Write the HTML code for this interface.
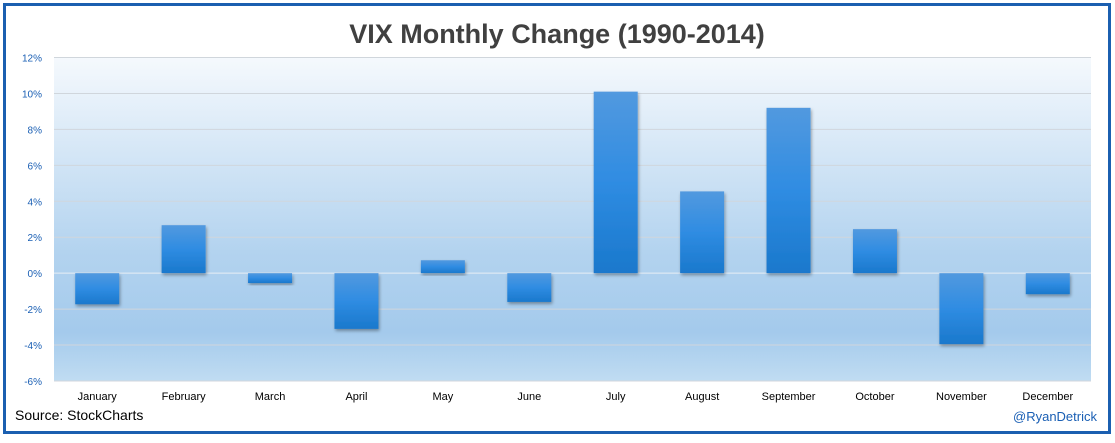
<!DOCTYPE html>
<html><head><meta charset="utf-8"><style>
body{margin:0;width:1115px;height:438px;background:#fff;overflow:hidden;font-family:"Liberation Sans",sans-serif}
</style></head><body>
<svg width="1115" height="438" xmlns="http://www.w3.org/2000/svg">
<defs>
<linearGradient id="bg" x1="0" y1="0" x2="0" y2="1">
<stop offset="0" stop-color="#f5f9fd"/><stop offset="0.6" stop-color="#b3d3ef"/><stop offset="0.85" stop-color="#a4caec"/><stop offset="1" stop-color="#c0dcf2"/></linearGradient>
<linearGradient id="bar" x1="0" y1="0" x2="0" y2="1">
<stop offset="0" stop-color="#5299df"/><stop offset="0.5" stop-color="#2f8ce2"/><stop offset="1" stop-color="#1a78cc"/></linearGradient>
<filter id="sh" x="-20%" y="-20%" width="140%" height="140%"><feDropShadow dx="1" dy="2" stdDeviation="1.5" flood-color="#000" flood-opacity="0.35"/></filter>
</defs>
<rect x="4.5" y="4.5" width="1105" height="428" fill="#fff" stroke="#1b5fb0" stroke-width="3"/>
<text x="557" y="43" text-anchor="middle" font-size="27" font-weight="bold" fill="#404040">VIX Monthly Change (1990-2014)</text>
<g id="plot"></g>
<text x="15" y="420" font-size="14" fill="#000">Source:  StockCharts</text>
<text x="1097" y="421" text-anchor="end" font-size="13" fill="#1a5fb4">@RyanDetrick</text>
</svg>
<script>
const categories=["January","February","March","April","May","June","July","August","September","October","November","December"];
const values=[-1.73,2.67,-0.55,-3.1,0.72,-1.6,10.1,4.55,9.2,2.45,-3.95,-1.17];
const ticks=[12,10,8,6,4,2,0,-2,-4,-6];
const L=54,R=1091,T=57.5,B=381,ymin=-6,ymax=12;
const NS="http://www.w3.org/2000/svg";
const y=v=>T+(ymax-v)/(ymax-ymin)*(B-T);
const bw=(R-L)/categories.length;
const x=i=>L+bw*(i+0.5);
const g=document.getElementById('plot');
function mk(t,a){const e=document.createElementNS(NS,t);for(const k in a)e.setAttribute(k,a[k]);g.appendChild(e);return e;}
const bg=mk('rect',{x:L,y:T,width:R-L,height:B-T,fill:'url(#bg)'});


ticks.forEach(t=>{
 const ln=mk('line',{x1:L,x2:R,y1:y(t),y2:y(t),stroke:t===0?'#e8eef5':'#d0d6dc','stroke-width':1});
 
 
 const tx=mk('text',{x:42,y:y(t)+4,'text-anchor':'end','font-size':10,fill:'#1a5fb4'});
 tx.textContent=t+'%';
 
 
});
categories.forEach((c,i)=>{
 const v=values[i],y0=y(0),y1=y(v);
 const r=mk('rect',{x:x(i)-22,y:Math.min(y0,y1),width:44,height:Math.abs(y1-y0),fill:'url(#bar)',filter:'url(#sh)'});
 
 
 const tx=mk('text',{x:x(i),y:400,'text-anchor':'middle','font-size':11,fill:'#000'});
 tx.textContent=c;
 
 
});
</script>
</body></html>
